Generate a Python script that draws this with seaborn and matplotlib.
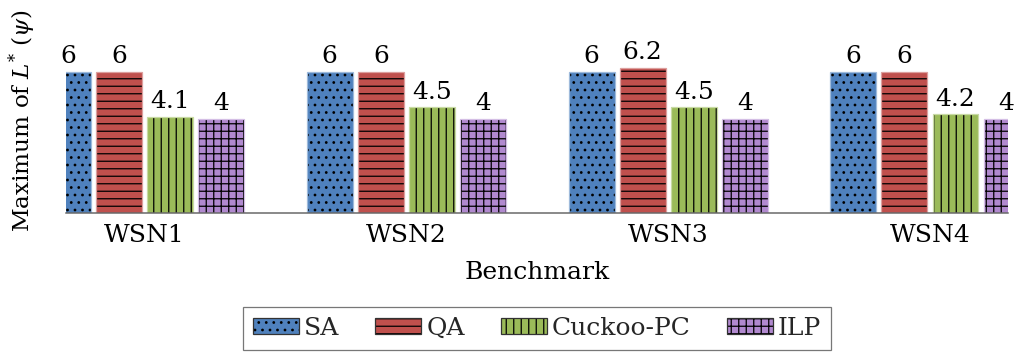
import matplotlib
matplotlib.use("Agg")
import matplotlib.pyplot as plt
import matplotlib.colors as mcolors
from matplotlib.patches import Patch
import seaborn as sns
import pandas as pd

# Benchmarks and the maximum L* reached by each method
benchmarks = ["WSN1", "WSN2", "WSN3", "WSN4"]
methods = ["SA", "QA", "Cuckoo-PC", "ILP"]
sa_values = [6, 6, 6, 6]
qa_values = [6, 6, 6.2, 6]
cuckoo_values = [4.1, 4.5, 4.5, 4.2]
ilp_values = [4, 4, 4, 4]

colors = ["#4F81BD", "#C0504D", "#9BBB59", "#B189CF"]
hatches = ["..", "--", "||", "++"]

df = pd.DataFrame({
    "Benchmark": benchmarks * 4,
    "Method": [m for m in methods for _ in benchmarks],
    "Value": sa_values + qa_values + cuckoo_values + ilp_values,
})

sns.set_theme(style="white")
plt.rcParams["font.family"] = ["DejaVu Serif"]
plt.rcParams["mathtext.fontset"] = "dejavuserif"
plt.rcParams["hatch.linewidth"] = 1.0
plt.rcParams["hatch.color"] = "black"

FS = 20
DPI = 90
fig = plt.figure(figsize=(1015 / DPI, 353 / DPI), dpi=DPI)
ax = fig.add_axes([66 / 1015, 140 / 353, 942 / 1015, 176 / 353])

sns.barplot(data=df, x="Benchmark", y="Value", hue="Method",
            hue_order=methods, order=benchmarks, palette=colors,
            saturation=1, width=0.78, gap=0.1, legend=False, ax=ax)


def lighten(c, amt=0.45):
    r, g, b = mcolors.to_rgb(c)
    return (r + (1 - r) * amt, g + (1 - g) * amt, b + (1 - b) * amt)


def style_patch(p, color, hatch, edge=None):
    p.set_facecolor(color)
    p.set_edgecolor(edge if edge is not None else lighten(color))
    p.set_linewidth(1.0)
    p.set_hatch(hatch)
    if hasattr(p, "set_hatchcolor"):
        p.set_hatchcolor("black")
    else:
        p._hatch_color = mcolors.to_rgba("black")


for cont, color, hatch in zip(ax.containers, colors, hatches):
    for p in cont:
        style_patch(p, color, hatch)
    ax.bar_label(cont, fmt="%g", padding=3, fontsize=FS, color="black")

ax.set_xlim(-0.30, 3.298)
ax.set_ylim(0, 7.5)
ax.set_yticks([])
for side in ["left", "right", "top"]:
    ax.spines[side].set_visible(False)
ax.spines["bottom"].set_color("#666666")
ax.spines["bottom"].set_linewidth(1.2)
ax.tick_params(axis="x", length=0, pad=9, labelsize=FS, colors="black")
ax.set_xlabel("Benchmark", fontsize=FS, labelpad=11, color="black")
ax.set_ylabel(r"Maximum of $L^{*}$ ($\psi$)", fontsize=18.5, color="black")
ax.yaxis.set_label_coords(-0.030, 0.523)

handles = []
for m, color, hatch in zip(methods, colors, hatches):
    h = Patch(label=m)
    style_patch(h, color, hatch, edge="#333333")
    handles.append(h)

leg = fig.legend(handles=handles, loc="lower center", ncol=4,
                 bbox_to_anchor=(537 / 1015, 0.008), fontsize=FS,
                 frameon=True, fancybox=False, handlelength=1.84,
                 handleheight=0.6, handletextpad=0.2, columnspacing=1.44,
                 borderpad=0.4, borderaxespad=0, edgecolor="#555555")
leg.get_frame().set_linewidth(1.0)

fig.savefig("out.png", dpi=DPI)
